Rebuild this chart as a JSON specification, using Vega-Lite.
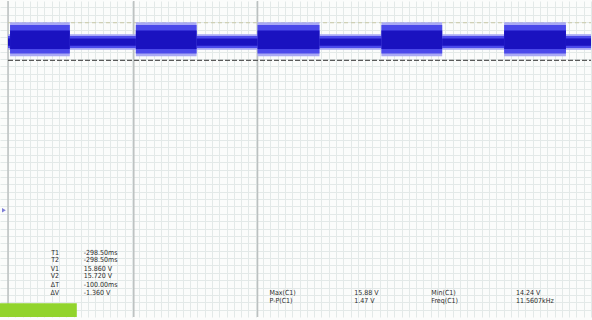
{
  "$schema": "https://vega.github.io/schema/vega-lite/v6.json",
  "width": 592,
  "height": 320,
  "autosize": {"type": "fit", "contains": "padding"},
  "padding": 0,
  "background": "#fbfcfb",
  "config": {"view": {"stroke": null}},
  "resolve": {"axis": {"x": "independent", "y": "independent"}},
  "datasets": {
    "envelope": [
      {"t0": 0.0, "t1": 1.4, "part": "fringe", "lo": 14.5, "hi": 15.35},
      {"t0": 1.4, "t1": 42.4, "part": "fringe", "lo": 14.15, "hi": 16.0},
      {"t0": 42.4, "t1": 87.7, "part": "fringe", "lo": 14.5, "hi": 15.35},
      {"t0": 87.7, "t1": 129.4, "part": "fringe", "lo": 14.15, "hi": 16.0},
      {"t0": 129.4, "t1": 171.2, "part": "fringe", "lo": 14.5, "hi": 15.35},
      {"t0": 171.2, "t1": 213.7, "part": "fringe", "lo": 14.15, "hi": 16.0},
      {"t0": 213.7, "t1": 256.2, "part": "fringe", "lo": 14.5, "hi": 15.35},
      {"t0": 256.2, "t1": 297.9, "part": "fringe", "lo": 14.15, "hi": 16.0},
      {"t0": 297.9, "t1": 340.4, "part": "fringe", "lo": 14.5, "hi": 15.35},
      {"t0": 340.4, "t1": 382.8, "part": "fringe", "lo": 14.15, "hi": 16.0},
      {"t0": 382.8, "t1": 400.0, "part": "fringe", "lo": 14.5, "hi": 15.35},
      {"t0": 0.0, "t1": 1.4, "part": "outer", "lo": 14.6, "hi": 15.25},
      {"t0": 1.4, "t1": 42.4, "part": "outer", "lo": 14.3, "hi": 15.85},
      {"t0": 42.4, "t1": 87.7, "part": "outer", "lo": 14.6, "hi": 15.25},
      {"t0": 87.7, "t1": 129.4, "part": "outer", "lo": 14.3, "hi": 15.85},
      {"t0": 129.4, "t1": 171.2, "part": "outer", "lo": 14.6, "hi": 15.25},
      {"t0": 171.2, "t1": 213.7, "part": "outer", "lo": 14.3, "hi": 15.85},
      {"t0": 213.7, "t1": 256.2, "part": "outer", "lo": 14.6, "hi": 15.25},
      {"t0": 256.2, "t1": 297.9, "part": "outer", "lo": 14.3, "hi": 15.85},
      {"t0": 297.9, "t1": 340.4, "part": "outer", "lo": 14.6, "hi": 15.25},
      {"t0": 340.4, "t1": 382.8, "part": "outer", "lo": 14.3, "hi": 15.85},
      {"t0": 382.8, "t1": 400.0, "part": "outer", "lo": 14.6, "hi": 15.25},
      {"t0": 0.0, "t1": 1.4, "part": "core", "lo": 14.72, "hi": 15.12},
      {"t0": 1.4, "t1": 42.4, "part": "core", "lo": 14.55, "hi": 15.55},
      {"t0": 42.4, "t1": 87.7, "part": "core", "lo": 14.72, "hi": 15.12},
      {"t0": 87.7, "t1": 129.4, "part": "core", "lo": 14.55, "hi": 15.55},
      {"t0": 129.4, "t1": 171.2, "part": "core", "lo": 14.72, "hi": 15.12},
      {"t0": 171.2, "t1": 213.7, "part": "core", "lo": 14.55, "hi": 15.55},
      {"t0": 213.7, "t1": 256.2, "part": "core", "lo": 14.72, "hi": 15.12},
      {"t0": 256.2, "t1": 297.9, "part": "core", "lo": 14.55, "hi": 15.55},
      {"t0": 297.9, "t1": 340.4, "part": "core", "lo": 14.72, "hi": 15.12},
      {"t0": 340.4, "t1": 382.8, "part": "core", "lo": 14.55, "hi": 15.55},
      {"t0": 382.8, "t1": 400.0, "part": "core", "lo": 14.72, "hi": 15.12}
    ],
    "cursors": [
      {"name": "T1", "v": "-298.50ms", "y": 3.48},
      {"name": "T2", "v": "-298.50ms", "y": 3.08},
      {"name": "V1", "v": "15.860 V", "y": 2.63},
      {"name": "V2", "v": "15.720 V", "y": 2.2},
      {"name": "ΔT", "v": "-100.00ms", "y": 1.74},
      {"name": "ΔV", "v": "-1.360 V", "y": 1.31}
    ],
    "measures": [
      {"t": 179.4, "y": 1.31, "label": "Max(C1)"},
      {"t": 179.4, "y": 0.88, "label": "P-P(C1)"},
      {"t": 237.6, "y": 1.31, "label": "15.88 V"},
      {"t": 237.6, "y": 0.88, "label": "1.47 V"},
      {"t": 290.4, "y": 1.31, "label": "Min(C1)"},
      {"t": 290.4, "y": 0.88, "label": "Freq(C1)"},
      {"t": 348.6, "y": 1.31, "label": "14.24 V"},
      {"t": 348.6, "y": 0.88, "label": "11.5607kHz"}
    ]
  },
  "layer": [
    {
      "data": {"values": [{"t": 0, "v": 0}]},
      "mark": {"type": "point", "opacity": 0},
      "encoding": {
        "x": {"field": "t", "type": "quantitative", "scale": {"domain": [-5.5, 400], "nice": false, "zero": false},
          "axis": {"title": null, "labels": false, "ticks": false, "domain": false, "grid": true, "gridColor": "#e3e9e8", "gridWidth": 1, "values": [0,5,10,15,20,25,30,35,40,45,50,55,60,65,70,75,80,85,90,95,100,105,110,115,120,125,130,135,140,145,150,155,160,165,170,175,180,185,190,195,200,205,210,215,220,225,230,235,240,245,250,255,260,265,270,275,280,285,290,295,300,305,310,315,320,325,330,335,340,345,350,355,360,365,370,375,380,385,390,395,400]}},
        "y": {"field": "v", "type": "quantitative", "scale": {"domain": [0, 17.15], "nice": false, "zero": false},
          "axis": {"title": null, "labels": false, "ticks": false, "domain": false, "grid": true, "gridColor": "#e3e9e8", "gridWidth": 1, "values": [0.4,0.8,1.2,1.6,2.0,2.4,2.8,3.2,3.6,4.0,4.4,4.8,5.2,5.6,6.0,6.4,6.8,7.2,7.6,8.0,8.4,8.8,9.2,9.6,10.0,10.4,10.8,11.2,11.6,12.0,12.4,12.8,13.2,13.6,14.0,14.4,14.8,15.2,15.6,16.0,16.4,16.8]}}
      }
    },
    {
      "data": {"values": [{"t": 0, "c": "border"}, {"t": 86.3, "c": "cursor"}, {"t": 171.2, "c": "cursor"}]},
      "mark": {"type": "rule", "color": "#bcc0c0", "strokeWidth": 1.5},
      "encoding": {"x": {"field": "t", "type": "quantitative", "axis": null}}
    },
    {
      "data": {"values": [{"v": 15.97}]},
      "mark": {"type": "rule", "color": "#c9c9a6", "strokeWidth": 1, "strokeDash": [4, 3]},
      "encoding": {"y": {"field": "v", "type": "quantitative", "axis": null}, "x": {"datum": 0, "axis": null}, "x2": {"datum": 400}}
    },
    {
      "data": {"values": [{"v": 13.93}]},
      "mark": {"type": "rule", "color": "#5a5a5a", "strokeWidth": 1.2, "strokeDash": [5, 2]},
      "encoding": {"y": {"field": "v", "type": "quantitative", "axis": null}, "x": {"datum": 0, "axis": null}, "x2": {"datum": 400}}
    },
    {
      "data": {"name": "envelope"},
      "mark": {"type": "rect"},
      "encoding": {
        "x": {"field": "t0", "type": "quantitative", "axis": null},
        "x2": {"field": "t1"},
        "y": {"field": "lo", "type": "quantitative", "axis": null},
        "y2": {"field": "hi"},
        "color": {"field": "part", "type": "nominal", "scale": {"domain": ["fringe", "outer", "core"], "range": ["#a9a9f4", "#4b49ea", "#1a12c0"]}, "legend": null}
      }
    },
    {
      "data": {"values": [{"t": -2.8, "v": 5.79}]},
      "mark": {"type": "point", "shape": "triangle-right", "filled": true, "color": "#4a48c8", "size": 20},
      "encoding": {"x": {"field": "t", "type": "quantitative", "axis": null}, "y": {"field": "v", "type": "quantitative", "axis": null}}
    },
    {
      "data": {"values": [{"t0": -5.5, "t1": 47.2, "lo": 0, "hi": 0.75}]},
      "mark": {"type": "rect", "color": "#92d42c"},
      "encoding": {
        "x": {"field": "t0", "type": "quantitative", "axis": null}, "x2": {"field": "t1"},
        "y": {"field": "lo", "type": "quantitative", "axis": null}, "y2": {"field": "hi"}
      }
    },
    {
      "data": {"name": "cursors"},
      "mark": {"type": "text", "align": "right", "baseline": "middle", "font": "DejaVu Sans Condensed", "fontSize": 7, "color": "#2a2a2a"},
      "encoding": {"x": {"datum": 35, "axis": null}, "y": {"field": "y", "type": "quantitative", "axis": null}, "text": {"field": "name"}}
    },
    {
      "data": {"name": "cursors"},
      "mark": {"type": "text", "align": "left", "baseline": "middle", "font": "DejaVu Sans Condensed", "fontSize": 7, "color": "#2a2a2a"},
      "encoding": {"x": {"datum": 52, "axis": null}, "y": {"field": "y", "type": "quantitative", "axis": null}, "text": {"field": "v"}}
    },
    {
      "data": {"name": "measures"},
      "mark": {"type": "text", "align": "left", "baseline": "middle", "font": "DejaVu Sans Condensed", "fontSize": 7, "color": "#2a2a2a"},
      "encoding": {"x": {"field": "t", "type": "quantitative", "axis": null}, "y": {"field": "y", "type": "quantitative", "axis": null}, "text": {"field": "label"}}
    }
  ]
}
